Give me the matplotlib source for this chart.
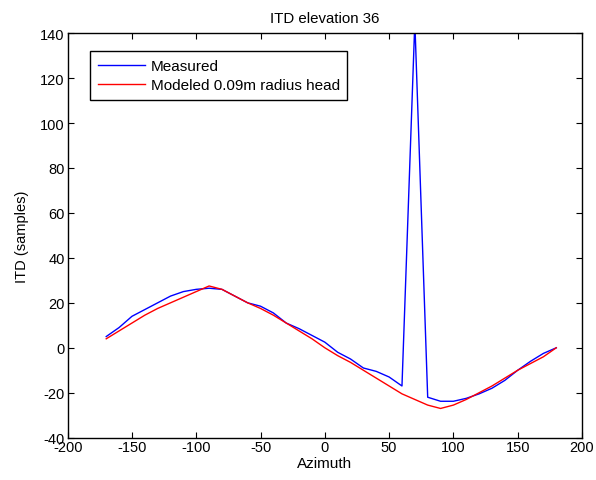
import matplotlib
matplotlib.use("Agg")
import matplotlib.pyplot as plt

azimuth = [-170, -160, -150, -140, -130, -120, -110, -100, -90, -80, -70, -60, -50, -40, -30, -20, -10,
           0, 10, 20, 30, 40, 50, 60, 70, 80, 90, 100, 110, 120, 130, 140, 150, 160, 170, 180]
measured = [5, 9, 14, 17, 20, 23, 25, 26, 26.5, 26, 23, 20, 18.5, 15.5, 11, 8.5, 5.5,
            2.5, -2, -5, -9, -10.5, -13, -17, 145, -22, -23.8, -23.8, -22.5, -20.5, -18, -14.5, -10, -6, -2.5, 0]
modeled = [4, 7.5, 11, 14.5, 17.5, 20, 22.5, 25, 27.5, 26, 23, 20, 17.5, 14.5, 11, 7.5, 4,
           0, -3.5, -6.5, -10, -13.5, -17, -20.5, -23, -25.5, -27, -25.5, -23, -20, -17, -13.5, -10, -7, -4, 0]

xticks = [-200, -150, -100, -50, 0, 50, 100, 150, 200]
yticks = [-40, -20, 0, 20, 40, 60, 80, 100, 120, 140]

plt.rcParams['font.family'] = ['Liberation Sans', 'DejaVu Sans']
plt.rcParams['axes.unicode_minus'] = False
fig = plt.figure(figsize=(5.96, 4.81), dpi=100)
ax = fig.add_axes([0.1135, 0.088, 0.863, 0.841])
ax.plot(azimuth, measured, color='#0000ff', lw=1.0, label='Measured')
ax.plot(azimuth, modeled, color='#ff0000', lw=1.0, label='Modeled 0.09m radius head')
ax.set_xlim(-200, 200)
ax.set_ylim(-40, 140)
ax.set_xticks(xticks)
ax.set_yticks(yticks)
ax.tick_params(direction='in', top=True, right=True, length=4, width=0.8, labelsize=10.5, colors='black', pad=2)
for s in ax.spines.values():
    s.set_linewidth(1.0)
ax.set_title('ITD elevation 36', fontsize=10.8, pad=8)
ax.set_xlabel('Azimuth', fontsize=11, labelpad=1)
ax.set_ylabel('ITD (samples)', fontsize=10.5, labelpad=8)
leg = ax.legend(loc='upper left', bbox_to_anchor=(0.044, 0.955), fontsize=11, fancybox=False,
                framealpha=1, edgecolor='black', borderaxespad=0, handlelength=3.1,
                handletextpad=0.35, labelspacing=0.35, borderpad=0.5)
leg.get_frame().set_linewidth(1.0)
fig.savefig('out.png', dpi=100)
